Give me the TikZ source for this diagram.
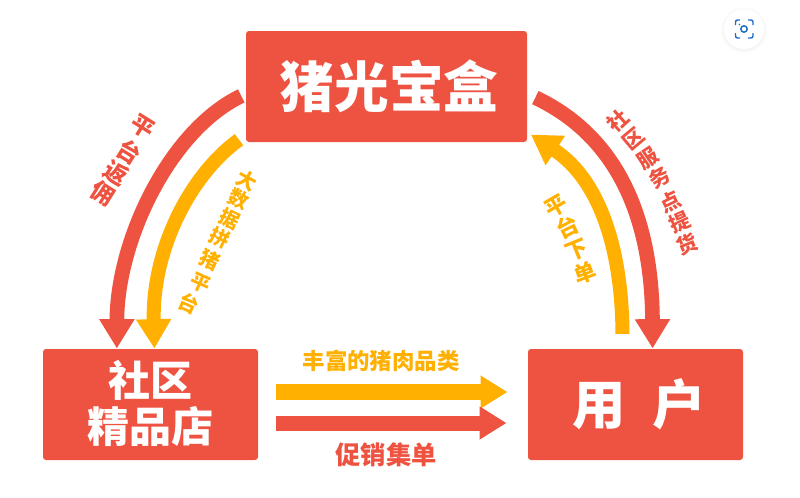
\documentclass[tikz,border=0pt]{standalone}
\usepackage{fontspec}
\setmainfont{Noto Sans CJK SC}
\usetikzlibrary{arrows.meta}

\definecolor{boxred}{HTML}{EE5240}
\definecolor{pigyellow}{HTML}{FFB000}
\definecolor{lensblue}{HTML}{1B6FC8}

\tikzset{every picture/.style={line width=0.75pt}}
\tikzset{
  boxnode/.style={fill=boxred,rounded corners=2.25pt,inner sep=0pt,text=white,align=center,font=\bfseries},
  bigbox/.style={boxnode,minimum width=210.75pt,minimum height=83.25pt},
  sidebox/.style={boxnode,minimum width=161.25pt,minimum height=83.25pt},
  arcred/.style={draw=boxred,line width=11pt,-{Triangle[length=22pt,width=25pt]}},
  arcyellow/.style={draw=pigyellow,line width=10.5pt,-{Triangle[length=22pt,width=25pt]}},
  barred/.style={draw=boxred,line width=11.25pt,-{Triangle[length=20.25pt,width=23.5pt]},shorten <=12.75pt,shorten >=15.75pt},
  baryellow/.style={draw=pigyellow,line width=12pt,-{Triangle[length=20.25pt,width=23.5pt]},shorten <=12.75pt,shorten >=15pt},
  redtext/.style={text=boxred,inner sep=0pt,font=\bfseries\fontsize{15.5}{15.5}\selectfont},
  yellowtext/.style={text=pigyellow,inner sep=0pt,font=\bfseries\fontsize{15}{15}\selectfont}
}

\begin{document}
\begin{tikzpicture}[x=0.75pt,y=0.75pt,yscale=-1,xscale=1]
\useasboundingbox (0,0) rectangle (800,497);

%Shape: Boxes
\node (topbox) [bigbox,font=\bfseries\fontsize{41}{41}\selectfont] at (386.5,86.5) {\hspace*{4pt}猪光宝盒};
\node (shopbox) [sidebox,font=\bfseries\fontsize{31.5}{34.5}\selectfont] at (150.5,404.5) {社区\\精品店\par\vspace{2.2pt}};
\node (userbox) [sidebox,font=\bfseries\fontsize{40}{40}\selectfont] at (635.5,404.5) {\hspace*{6pt}用\hspace{20pt}户};

%Shape: Curved arrows
\draw [arcred,shorten <=3.5pt] (topbox.183) .. controls (170,130) and (117,240) .. (shopbox.121);
\draw [arcyellow,shorten <=6pt] (topbox.199) .. controls (190,175) and (152,250) .. (shopbox.86);
\draw [arcred,shorten <=6.5pt] (topbox.-3) .. controls (625,140) and (652,230) .. (userbox.73);
\draw [arcyellow,shorten <=11pt,shorten >=3pt] (userbox.103) .. controls (622,250) and (600,180) .. (topbox.-18);

%Shape: Straight arrows
\draw [baryellow] ([yshift=-9.375pt]shopbox.east) -- ([yshift=-9.375pt]userbox.west);
\draw [barred] ([yshift=13.875pt]shopbox.east) -- ([yshift=13.875pt]userbox.west);

% Text Node
\node (goodslabel) [yellowtext,font=\bfseries\fontsize{16.8}{16.8}\selectfont] at (381,361) {丰富的猪肉品类};
\node (promolabel) [redtext,font=\bfseries\fontsize{19}{19}\selectfont] at (386,455) {促销集单};

% Text Node
\foreach \ch/\px/\py/\ang [count=\i] in {平/143/127/-32,台/129/152/-32,返/116/173/-32,佣/103/193/-32}
  \node (rebate\i) [redtext,font=\bfseries\fontsize{17.5}{17.5}\selectfont,rotate=\ang] at (\px,\py) {\ch};
\foreach \ch/\px/\py/\ang [count=\i] in {大/247/180/-28,数/239/199/-26,据/230/219/-25,拼/220/238/-25,猪/210/260/-25,平/200/283/-24,台/189/303/-24}
  \node (bigdata\i) [yellowtext,rotate=\ang] at (\px,\py) {\ch};
\foreach \ch/\px/\py/\ang [count=\i] in {平/556/206/30,台/568/227/26,下/577/250/22,单/585/273/20}
  \node (order\i) [yellowtext,font=\bfseries\fontsize{16.5}{16.5}\selectfont,rotate=\ang] at (\px,\py) {\ch};
\foreach \ch/\px/\py/\ang [count=\i] in {社/618/121/42,区/633/139/40,服/648/159/34,务/660/178/30,点/670/202/26,提/680/222/24,货/687/244/22}
  \node (pickup\i) [redtext,rotate=\ang] at (\px,\py) {\ch};

%Shape: Lens button
\foreach \rr/\gg in {23/1,22/2,21/4}
  \fill [black!\gg] (744,30) circle (\rr);
\fill [white] (744,29) circle (20);
\draw [lensblue,line width=1.1pt,rounded corners=1.5pt] (735.5,25) -- (735.5,20) -- (740,20);
\draw [lensblue,line width=1.1pt,rounded corners=1.5pt] (748,20) -- (753,20) -- (753,25);
\draw [lensblue,line width=1.1pt,rounded corners=1.5pt] (735.5,33) -- (735.5,38) -- (740,38);
\draw [lensblue,line width=1.1pt,rounded corners=1.5pt] (748,38) -- (753,38) -- (753,33);
\draw [lensblue,line width=1.1pt] (744,29) circle (3.2);
\fill [lensblue] (739.5,24.5) circle (0.8);

\end{tikzpicture}
\end{document}
